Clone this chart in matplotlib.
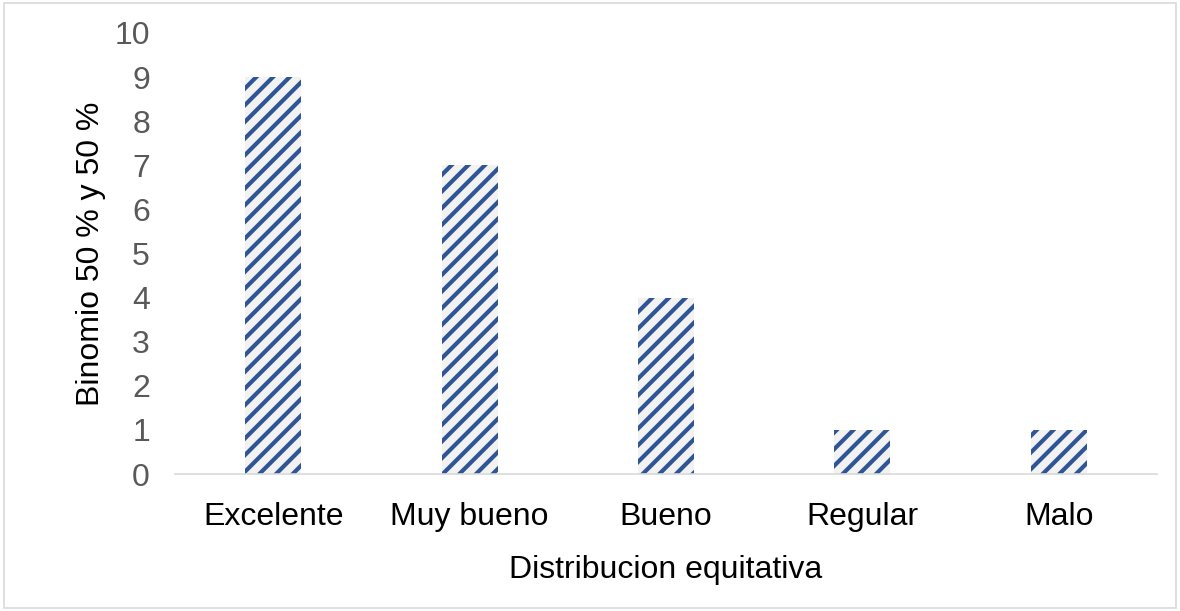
import matplotlib
matplotlib.use("Agg")
import matplotlib.pyplot as plt

categorias = ["Excelente", "Muy bueno", "Bueno", "Regular", "Malo"]
valores = [9, 7, 4, 1, 1]
yticks = list(range(0, 11))

plt.rcParams['font.family'] = ['Liberation Sans', 'DejaVu Sans']
plt.rcParams['hatch.linewidth'] = 3.0
plt.rcParams['hatch.color'] = '#2F5597'

fig = plt.figure(figsize=(11.8, 6.11), dpi=100)
ax = fig.add_axes([0.1483, 0.2242, 0.8322, 0.7218])

x = range(len(categorias))
ax.bar(x, valores, width=0.285, color='#F2F2F2', edgecolor='#2F5597',
       hatch='//', linewidth=0)

ax.set_xlim(-0.5, len(categorias) - 0.5)
ax.set_ylim(0, 10)
ax.set_yticks(yticks)
ax.set_xticks(list(x))
ax.set_xticklabels(categorias)
ax.tick_params(axis='both', length=0, labelsize=23, colors='#595959')
ax.tick_params(axis='y', pad=18)
ax.tick_params(axis='x', labelcolor='black', pad=20)

for s in ['top', 'right', 'left']:
    ax.spines[s].set_visible(False)
ax.spines['bottom'].set_color('#D9D9D9')
ax.spines['bottom'].set_linewidth(1.2)

ax.set_xlabel("Distribucion equitativa", fontsize=23, labelpad=17)
ax.set_ylabel("Binomio 50 % y 50 %", fontsize=23, labelpad=6)

# marco del grafico
fig.patches.append(plt.Rectangle((0.003, 0.005), 0.994, 0.99, transform=fig.transFigure,
                                 fill=False, edgecolor='#D9D9D9', linewidth=1.2))

fig.savefig("out.png", dpi=100)
